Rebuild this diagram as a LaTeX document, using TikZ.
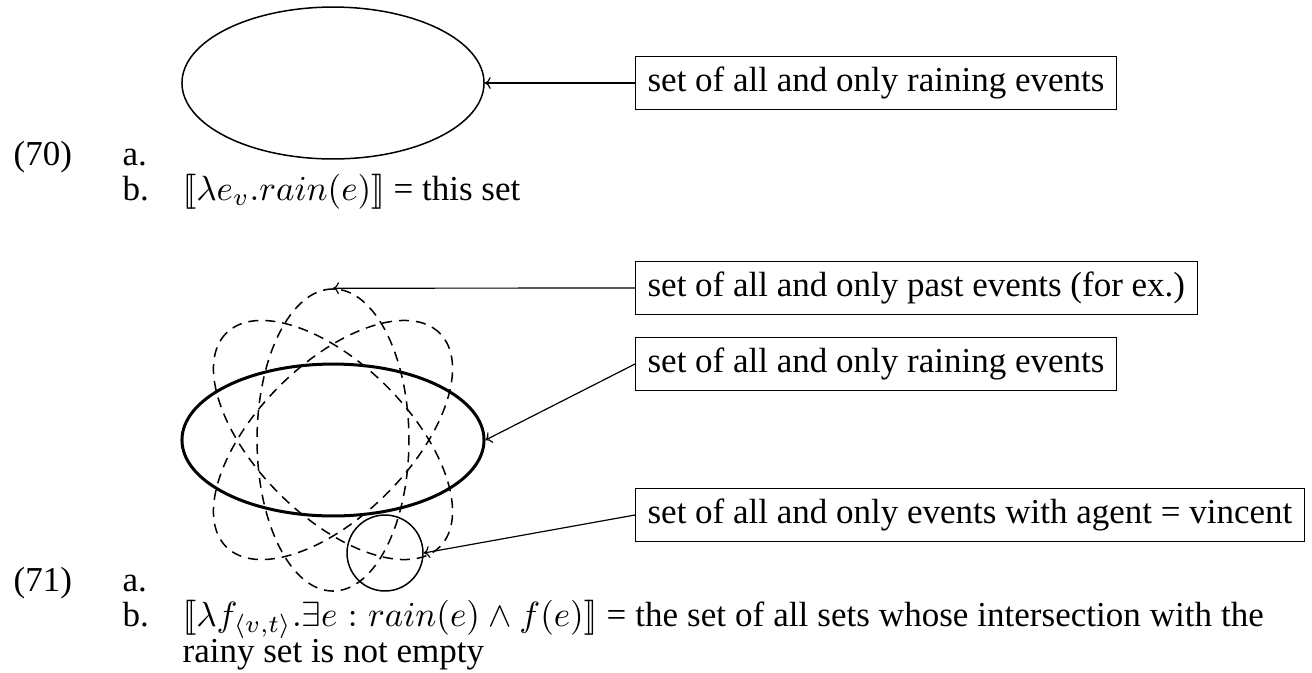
\documentclass[tikz,border=0pt]{standalone}
\usepackage{fontspec}
\setmainfont{Liberation Serif}
\usetikzlibrary{shapes.geometric,arrows.meta}

\begin{document}
% one coordinate unit is one pixel of a 1312 x 672 canvas
\begin{tikzpicture}[x=0.2857pt,y=-0.2857pt,
  every node/.style={font=\fontsize{10}{12}\selectfont},
  evset/.style={draw, ellipse, line width=0.43pt, inner sep=0pt,
                minimum width=86.3pt, minimum height=43.4pt},
  rainset/.style={evset, line width=0.86pt},
  otherset/.style={evset, dash pattern=on 2.86pt off 2pt},
  agentset/.style={draw, circle, line width=0.43pt, inner sep=0pt, minimum size=21.7pt},
  lbl/.style={draw, line width=0.34pt, anchor=west, inner xsep=3.43pt, inner ysep=0pt,
              minimum height=15.1pt},
  conn/.style={-{To[length=1.7pt,width=3.4pt]}, line width=0.34pt},
  txt/.style={anchor=base west, inner sep=0pt}]

\useasboundingbox (0,0) rectangle (1312,672);

% (70): a single set of events
\node[evset] (rainA) at (333,83) {};
\node[lbl] (boxA) at (635,83) {set of all and only raining events};
\draw[conn] (boxA.west) -- (rainA.east);

\node[txt] (n70) at (13,165) {(70)};
\node[txt] (a70) at (122,165) {a.};
\node[txt] (b70) at (122,200) {b.};
\node[txt] (f70) at (182,200) {$[\![\lambda e_v.rain(e)]\!]$ = this set};

% (71): the raining set among other sets
\node[rainset] (rainB) at (333,440) {};
\node[otherset, rotate=45] (otherL) at (333,440) {};
\node[otherset, rotate=90] (past) at (333,440) {};
\node[otherset, rotate=135] (otherR) at (333,440) {};
\node[agentset] (agent) at (385,553) {};

\node[lbl] (boxPast) at (635,288) {set of all and only past events (for ex.)};
\node[lbl] (boxRain) at (635,364) {set of all and only raining events};
\node[lbl] (boxAgent) at (635,515) {set of all and only events with agent = vincent};

\draw[conn] (boxPast.west) -- (past.east);
\draw[conn] (boxRain.west) -- (rainB.east);
\draw[conn] (boxAgent.west) -- (agent.east);

\node[txt] (n71) at (13,591) {(71)};
\node[txt] (a71) at (122,591) {a.};
\node[txt] (b71) at (122,626) {b.};
\node[txt] (f71) at (182,626) {\makebox[308.9pt][s]{$[\![\lambda f_{\langle v,t\rangle}.\exists e : rain(e) \wedge f(e)]\!]$ = the set of all sets whose intersection with the}};
\node[txt] (g71) at (182,662) {rainy set is not empty};
\end{tikzpicture}
\end{document}
